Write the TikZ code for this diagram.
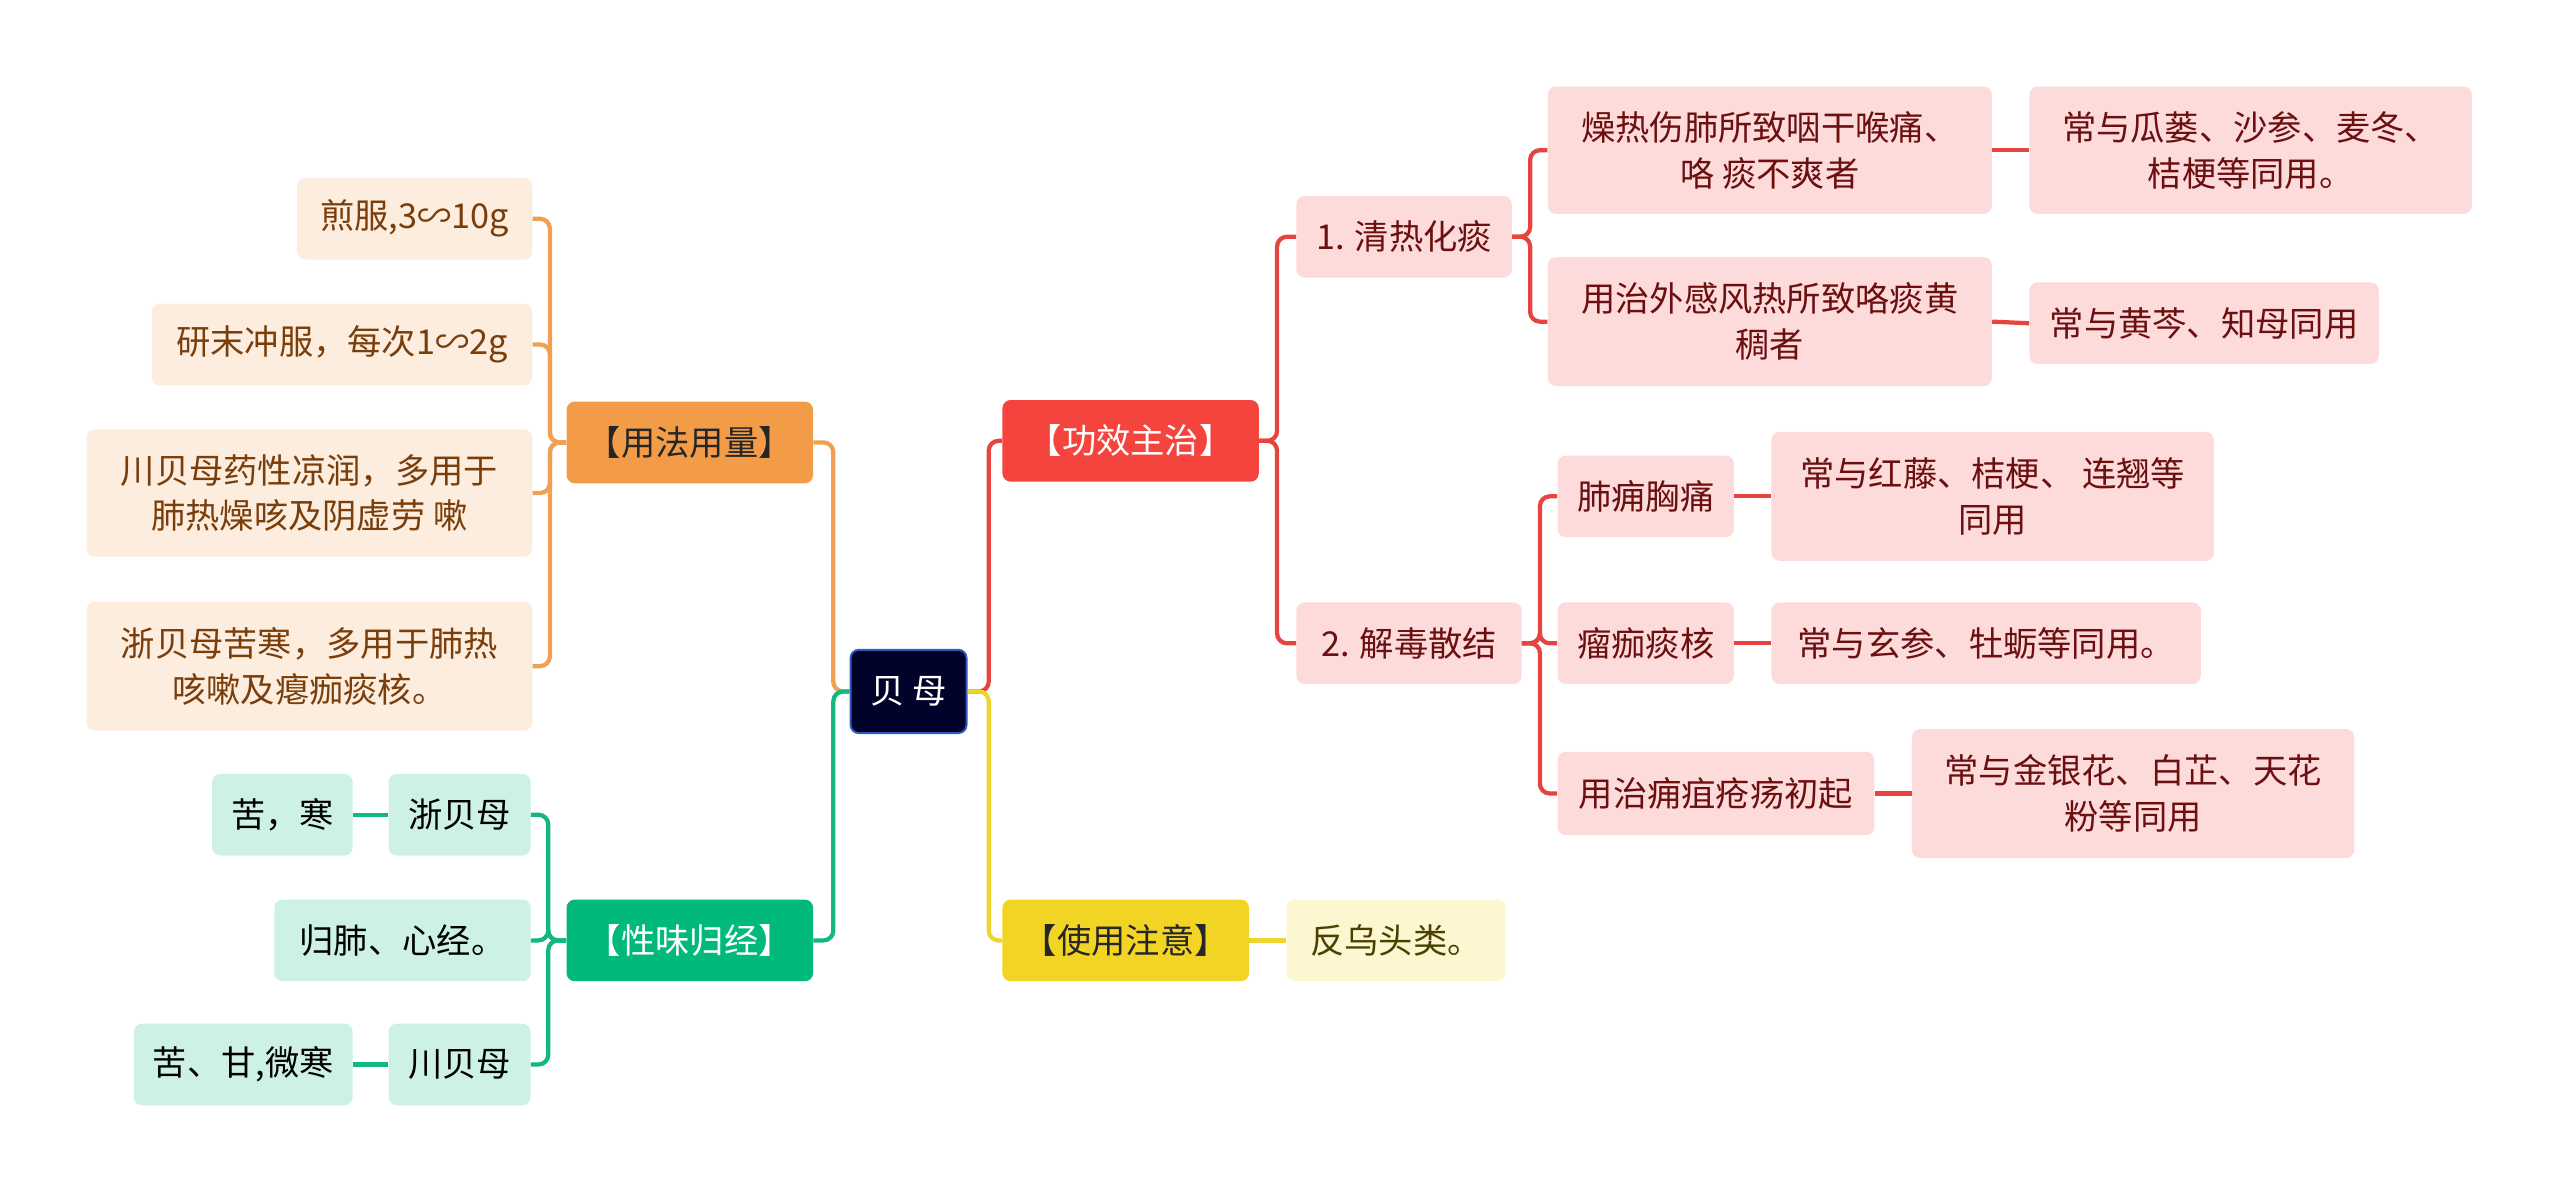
\documentclass[tikz,border=0pt]{standalone}
\usepackage{fontspec}
\setmainfont{Noto Sans CJK SC}

\definecolor{rootfill}{HTML}{02032A}
\definecolor{rootline}{HTML}{2E5CB8}
\definecolor{oline}{HTML}{F0A053}
\definecolor{omain}{HTML}{F39C48}
\definecolor{olight}{HTML}{FDEDDF}
\definecolor{otext}{HTML}{7A3E0B}
\definecolor{gline}{HTML}{14B77E}
\definecolor{gmain}{HTML}{00B97A}
\definecolor{glight}{HTML}{CDF2E3}
\definecolor{rline}{HTML}{E5443F}
\definecolor{rmain}{HTML}{F5443D}
\definecolor{rlight}{HTML}{FDDBDB}
\definecolor{rtext}{HTML}{6B0F10}
\definecolor{yline}{HTML}{EED52E}
\definecolor{ymain}{HTML}{F1D424}
\definecolor{ylight}{HTML}{FCF6D1}
\definecolor{ytext}{HTML}{4A4100}

\tikzset{
  box/.style={rounded corners=5pt, align=center, inner sep=0pt,
    minimum height=50pt, font=\fontsize{21}{28}\selectfont},
  tallbox/.style={box, minimum height=79pt},
  rootbox/.style={box, fill=rootfill, draw=rootline, line width=1.2pt, text=white},
  omainbox/.style={box, fill=omain, text=black!85},
  gmainbox/.style={box, fill=gmain, text=white},
  rmainbox/.style={box, fill=rmain, text=white},
  ymainbox/.style={box, fill=ymain, text=black!85},
  obox/.style={fill=olight, text=otext},
  gbox/.style={fill=glight, text=black},
  rbox/.style={fill=rlight, text=rtext},
  ybox/.style={fill=ylight, text=ytext},
  link/.style={line width=2.6pt, rounded corners=6pt},
}

\begin{document}
\begin{tikzpicture}[x=1pt,y=-1pt]
  \useasboundingbox (0,0) rectangle (1568,731);

  % centre and main branches
  \node[rootbox, minimum width=71pt, minimum height=51pt] (root) at (556.5,423.5) {贝\ 母};
  \node[omainbox, minimum width=151pt] (usage) at (422.5,271) {【用法用量】};
  \node[gmainbox, minimum width=151pt] (nature) at (422.5,576) {【性味归经】};
  \node[rmainbox, minimum width=157pt] (cure) at (692.5,270) {【功效主治】};
  \node[ymainbox, minimum width=151pt] (caution) at (689.5,576) {【使用注意】};

  % usage and dosage
  \node[box, obox, minimum width=144pt] (dose1) at (254,134) {煎服,3∽10g};
  \node[box, obox, minimum width=233pt] (dose2) at (209.5,211) {研末冲服，每次1∽2g};
  \node[tallbox, obox, minimum width=273pt, minimum height=78pt] (dose3) at (189.5,302) {川贝母药性凉润，多用于\\肺热燥咳及阴虚劳 嗽};
  \node[tallbox, obox, minimum width=273pt] (dose4) at (189.5,408) {浙贝母苦寒，多用于肺热\\咳嗽及瘪痂痰核。};

  % nature and meridians
  \node[box, gbox, minimum width=87pt] (zhe) at (281.5,499) {浙贝母};
  \node[box, gbox, minimum width=86pt] (zheta) at (173,499) {苦，寒};
  \node[box, gbox, minimum width=157pt] (merid) at (246.5,576) {归肺、心经。};
  \node[box, gbox, minimum width=87pt] (chuan) at (281.5,652) {川贝母};
  \node[box, gbox, minimum width=134pt] (chuanta) at (149,652) {苦、甘,微寒};

  % effects
  \node[box, rbox, minimum width=132pt] (heat) at (860,145) {1. 清热化痰};
  \node[box, rbox, minimum width=138pt] (detox) at (863,394) {2. 解毒散结};
  \node[tallbox, rbox, minimum width=272pt, minimum height=78pt] (dry) at (1084,92) {燥热伤肺所致咽干喉痛、\\咯 痰不爽者};
  \node[tallbox, rbox, minimum width=272pt] (wind) at (1084,197) {用治外感风热所致咯痰黄\\稠者};
  \node[tallbox, rbox, minimum width=271pt, minimum height=78pt] (dryuse) at (1378.5,92) {常与瓜蒌、沙参、麦冬、\\桔梗等同用。};
  \node[box, rbox, minimum width=214pt] (winduse) at (1350,198) {常与黄芩、知母同用};
  \node[box, rbox, minimum width=108pt] (lung) at (1008,304) {肺痈胸痛};
  \node[box, rbox, minimum width=108pt] (lump) at (1008,394) {瘤痂痰核};
  \node[box, rbox, minimum width=194pt, minimum height=51pt] (sore) at (1051,486) {用治痈疽疮疡初起};
  \node[tallbox, rbox, minimum width=271pt] (lunguse) at (1220.5,304) {常与红藤、桔梗、 连翘等\\同用};
  \node[box, rbox, minimum width=263pt] (lumpuse) at (1216.5,394) {常与玄参、牡蛎等同用。};
  \node[tallbox, rbox, minimum width=271pt] (soreuse) at (1306.5,486) {常与金银花、白芷、天花\\粉等同用};

  % caution
  \node[box, ybox, minimum width=134pt] (wutou) at (855,576) {反乌头类。};

  % links from the centre
  \draw[link, rline] (root.east) -- ++(13,0) |- (cure.west);
  \draw[link, yline] (root.east) -- ++(13,0) |- (caution.west);
  \draw[link, oline] (root.west) -- ++(-10,0) |- (usage.east);
  \draw[link, gline] (root.west) -- ++(-10,0) |- (nature.east);

  % usage links
  \foreach \n in {dose1,dose2,dose3,dose4}
    \draw[link, oline] (usage.west) -- ++(-10,0) |- (\n.east);

  % nature links
  \foreach \n in {zhe,merid,chuan}
    \draw[link, gline] (nature.west) -- ++(-11,0) |- (\n.east);
  \draw[link, gline] (zhe.west) -- (zheta.east);
  \draw[link, gline] (chuan.west) -- (chuanta.east);

  % effect links
  \foreach \n in {heat,detox}
    \draw[link, rline] (cure.east) -- ++(11,0) |- (\n.west);
  \foreach \n in {dry,wind}
    \draw[link, rline] (heat.east) -- ++(11,0) |- (\n.west);
  \foreach \n in {lung,lump,sore}
    \draw[link, rline] (detox.east) -- ++(11,0) |- (\n.west);
  \draw[link, rline] (dry.east) -- (dryuse.west);
  \draw[link, rline] (wind.east) -- (winduse.west);
  \draw[link, rline] (lung.east) -- (lunguse.west);
  \draw[link, rline] (lump.east) -- (lumpuse.west);
  \draw[link, rline] (sore.east) -- (soreuse.west);

  % caution link
  \draw[link, yline] (caution.east) -- (wutou.west);
\end{tikzpicture}
\end{document}
